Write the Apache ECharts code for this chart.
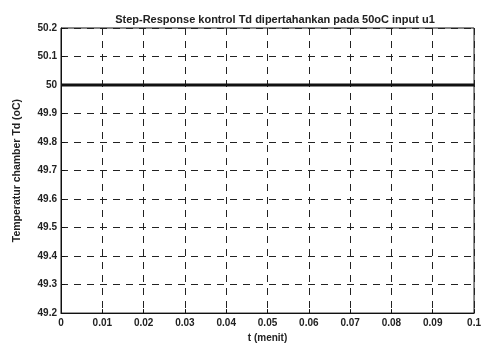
<!DOCTYPE html>
<html><head><meta charset="utf-8">
<script src="https://cdn.jsdelivr.net/npm/echarts@6/dist/echarts.min.js"></script>
<style>html,body{margin:0;padding:0;background:#fff}#c{width:484px;height:348px}</style>
</head><body><div id="c"></div>
<script>
var timeValues = [0, 0.01, 0.02, 0.03, 0.04, 0.05, 0.06, 0.07, 0.08, 0.09, 0.1];
var tempValues = [50, 50, 50, 50, 50, 50, 50, 50, 50, 50, 50];
var xTickLabels = ['0','0.01','0.02','0.03','0.04','0.05','0.06','0.07','0.08','0.09','0.1'];
var yTickLabels = ['49.2','49.3','49.4','49.5','49.6','49.7','49.8','49.9','50','50.1','50.2'];
var titleText = 'Step-Response kontrol Td dipertahankan pada 50oC input u1';
var xName = 't (menit)';
var yName = 'Temperatur chamber Td (oC)';

var chart = echarts.init(document.getElementById('c'), null, {renderer:'canvas'});
var txt = {color:'#222', fontFamily:'Liberation Sans, Arial, sans-serif', fontWeight:'bold'};
var data = timeValues.map(function(t,i){return [t, tempValues[i]];});
chart.setOption({
  animation:false,
  backgroundColor:'#fff',
  title:{text:titleText, left:270, top:9, textAlign:'center',
    textStyle:Object.assign({fontSize:11}, txt)},
  grid:{left:61, right:8, top:28, bottom:31, show:true, borderColor:'#111', borderWidth:1, backgroundColor:'transparent'},
  xAxis:{type:'value', min:0, max:0.1, interval:0.01,
    name:xName, nameLocation:'middle', nameGap:18,
    nameTextStyle:Object.assign({fontSize:10}, txt),
    axisLine:{show:true, lineStyle:{color:'#111'}},
    axisTick:{show:true, inside:true, length:4, lineStyle:{color:'#111'}},
    axisLabel:{fontSize:10, margin:5, color:'#222', fontFamily:txt.fontFamily, fontWeight:'bold',
      formatter:function(v){var i=Math.round(v/0.01);return xTickLabels[i]||'';}},
    splitLine:{show:true, lineStyle:{color:'#222', type:[7,6], width:1}}
  },
  yAxis:{type:'value', min:49.2, max:50.2, interval:0.1,
    name:yName, nameLocation:'middle', nameGap:38, nameRotate:90,
    nameTextStyle:Object.assign({fontSize:10.5}, txt),
    axisLine:{show:true, lineStyle:{color:'#111'}},
    axisTick:{show:true, inside:true, length:4, lineStyle:{color:'#111'}},
    axisLabel:{fontSize:10, margin:4, color:'#222', fontFamily:txt.fontFamily, fontWeight:'bold',
      formatter:function(v){var i=Math.round((v-49.2)/0.1);return yTickLabels[i]||'';}},
    splitLine:{show:true, lineStyle:{color:'#222', type:[7,6], width:1}}
  },
  series:[{type:'line', data:data, showSymbol:false, symbol:'none',
    lineStyle:{color:'#111', width:3}, z:5}]
});
</script></body></html>
